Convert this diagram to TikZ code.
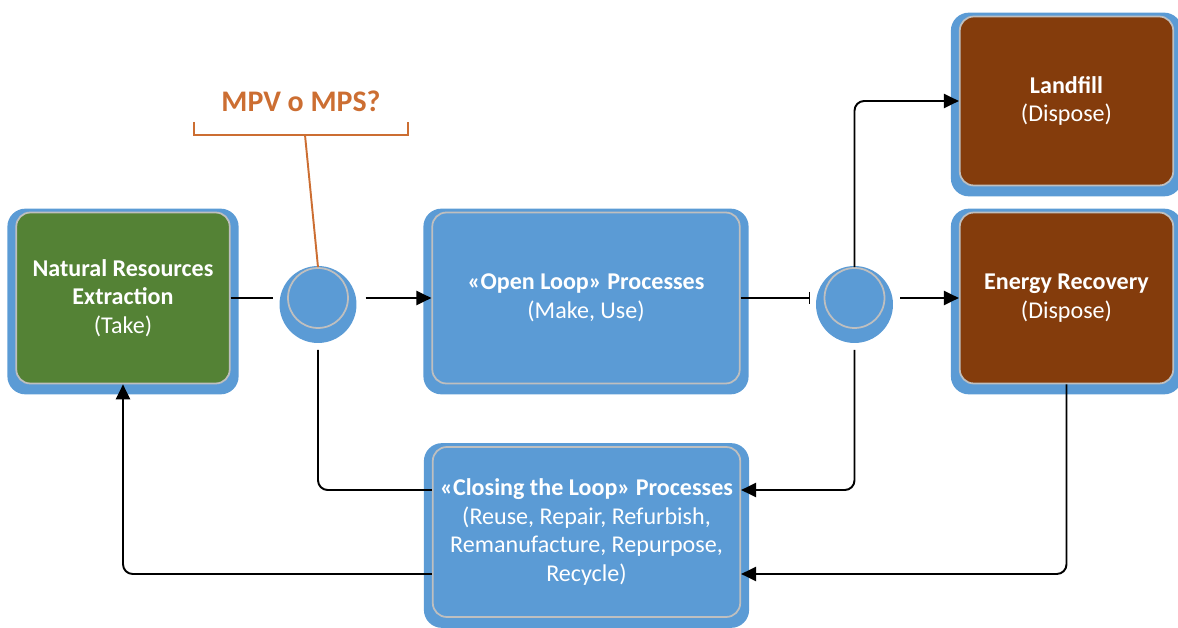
\documentclass[tikz,border=0pt]{standalone}
\usepackage{fontspec}
\setmainfont{Carlito}
\usepackage{tikz}
\usetikzlibrary{arrows.meta, positioning, backgrounds}
\definecolor{procblue}{RGB}{91,155,213}
\definecolor{earthgreen}{RGB}{84,130,53}
\definecolor{wastebrown}{RGB}{132,60,12}
\definecolor{askorange}{RGB}{204,110,50}
\definecolor{rimgray}{RGB}{191,191,191}

\begin{document}
\begin{tikzpicture}[x=0.02cm, y=-0.02cm,
    box/.style={draw=rimgray, line width=1pt, rounded corners=0.28cm, text=white, align=center,
      minimum width=4.27cm, minimum height=3.42cm, inner sep=0pt,
      font=\fontsize{13.7}{16.2}\selectfont},
    widebox/.style={box, minimum width=6.15cm},
    hub/.style={circle, draw=rimgray, line width=1pt, fill=procblue, minimum size=1.2cm, inner sep=0pt},
    flow/.style={line width=1.1pt, rounded corners=5.5pt},
    arrowed/.style={-{Triangle[length=8.5pt,width=8pt]}}]
  \useasboundingbox (0,0) rectangle (1178,628);
  % boxes and hubs
  \node[box, fill=earthgreen] (nat) at (123,298) {\textbf{Natural Resources}\\\textbf{Extraction}\\(Take)};
  \node[hub] (c1) at (318,298) {};
  \node[widebox, fill=procblue] (open) at (586,298) {\textbf{«Open Loop» Processes}\\(Make, Use)};
  \node[hub] (c2) at (854.5,298) {};
  \node[box, fill=wastebrown] (energy) at (1066.5,298) {\textbf{Energy Recovery}\\(Dispose)};
  \node[box, fill=wastebrown, minimum height=3.38cm] (land) at (1066.5,101) {\textbf{Landfill}\\(Dispose)};
  \node[widebox, fill=procblue, minimum height=3.4cm] (close) at (586.5,532)
    {\textbf{«Closing the Loop» Processes}\\(Reuse, Repair, Refurbish,\\Remanufacture, Repurpose,\\Recycle)};
  \begin{scope}[on background layer]
    \foreach \b in {nat,open,close,land,energy}
      \fill[procblue, rounded corners=0.36cm] ([shift={(-8,-3)}]\b.north west) rectangle ([shift={(8,10)}]\b.south east);
    \foreach \h in {c1,c2}
      \fill[procblue] (\h) ++(0,6.5) circle (0.77cm);
  \end{scope}
  % flows
  \draw[flow, shorten >=8pt] (nat.east) -- (c1.west);
  \draw[flow, arrowed, shorten <=9.5pt] (c1.east) -- (open.west);
  \draw[flow, -{Bar[width=7pt]}, shorten >=7.5pt] (open.east) -- (c2.west);
  \draw[flow, arrowed, shorten <=8.5pt] (c2.east) -- (energy.west);
  \draw[flow, arrowed] (c2.north) |- (land.west);
  \draw[flow, arrowed, shorten <=12pt] (c2.south) |- ([yshift=0.84cm]close.east);
  \draw[flow, shorten <=12pt] (c1.south) |- ([yshift=0.84cm]close.west);
  \draw[flow, arrowed] ([yshift=-0.84cm]close.west) -| (nat.south);
  \draw[flow, arrowed] (energy.south) |- ([yshift=-0.84cm]close.east);
  % question bracket
  \coordinate (brL) at (194,122);
  \coordinate (brR) at (408,122);
  \coordinate (brM) at (305,135);
  \draw[askorange, line width=1.1pt] (brL) -- ++(0,13) -| (brR);
  \draw[askorange, line width=1.1pt] (brM) -- (c1.north);
  \node[askorange, font=\bfseries\fontsize{17}{20}\selectfont] (mpv) at (301,101) {MPV o MPS?};
\end{tikzpicture}
\end{document}
